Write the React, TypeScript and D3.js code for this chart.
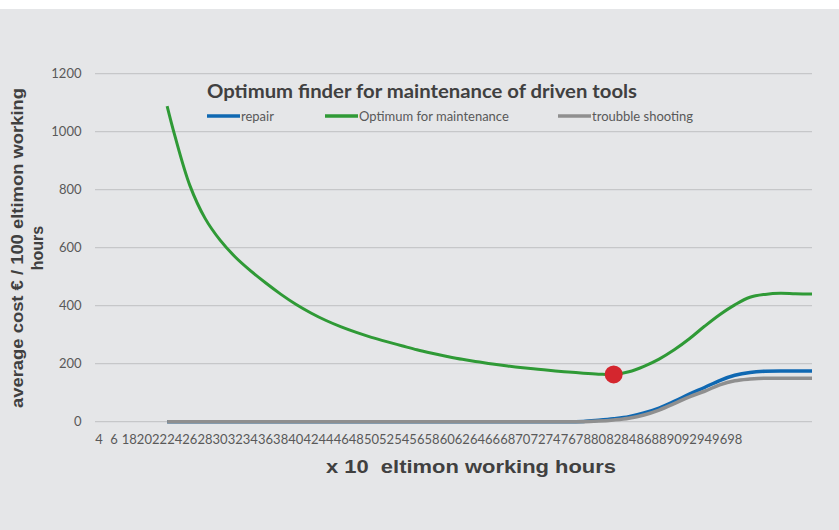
import {curveCatmullRom, curveMonotoneX, line, min, scaleLinear} from "d3";

const TICK_LABELS = [
  "4", "6", "18", "20", "22", "24", "26", "28", "30", "32", "34", "36", "38", "40", "42",
  "44", "46", "48", "50", "52", "54", "56", "58", "60", "62", "64", "66", "68", "70", "72",
  "74", "76", "78", "80", "82", "84", "86", "88", "90", "92", "94", "96", "98"
];

// position along the category axis (0 = first label)
const POSITIONS = [
  4.5, 5, 6, 7, 8, 9, 10, 11, 12, 13, 14, 15, 16, 17, 18, 19, 20, 21, 22, 23, 24, 25,
  26, 27, 28, 29, 30, 31, 32, 33, 34, 35, 36, 37, 38, 39, 40, 41, 42, 43, 44, 45, 46, 47, 47.1
];

const MAINTENANCE = [
  1088, 988, 815, 702, 626, 568, 521, 479, 440, 405, 375, 349, 327, 308, 291, 276, 262, 248,
  236, 225, 215, 207, 199, 192, 186, 181, 176, 171, 167, 164, 163, 172, 191, 216, 248, 286,
  329, 369, 403, 429, 439, 443, 441, 440, 440
];

const REPAIR = [
  0, 0, 0, 0, 0, 0, 0, 0, 0, 0, 0, 0, 0, 0, 0, 0, 0, 0, 0, 0, 0, 0, 0, 0, 0, 0, 0, 0,
  1, 5, 10, 17, 30, 47, 70, 95, 118, 142, 160, 170, 174, 175, 175, 175, 175
];

const TROUBLESHOOTING = [
  0, 0, 0, 0, 0, 0, 0, 0, 0, 0, 0, 0, 0, 0, 0, 0, 0, 0, 0, 0, 0, 0, 0, 0, 0, 0, 0, 0,
  0, 2, 6, 12, 23, 40, 62, 86, 105, 127, 141, 147, 150, 150, 150, 150, 150
];

const Y_TICKS = [0, 200, 400, 600, 800, 1000, 1200];

const SERIES = [
  {name: "repair", values: REPAIR, color: "#0f68b2", width: 3.5},
  {name: "Optimum for maintenance", values: MAINTENANCE, color: "#2f9a36", width: 3},
  {name: "troubble shooting", values: TROUBLESHOOTING, color: "#8f8f8f", width: 3.5}
];

const LEGEND_X = [207, 325, 558];

const LABEL_FONT = "Lato, 'Open Sans', sans-serif";
const TITLE_FONT = "'Liberation Sans', Arial, sans-serif";

export default function App() {
  const width = 839;
  const height = 530;

  const x = scaleLinear().domain([-0.264, 47.1]).range([95, 812]);
  const y = scaleLinear().domain([0, 1200]).range([421.7, 73.7]);

  const pathFor = (values: number[], smooth: boolean) =>
    line<number>()
      .x((_, i) => x(POSITIONS[i]))
      .y((v) => y(v))
      .curve(smooth ? curveCatmullRom.alpha(0.5) : curveMonotoneX)(values) ?? "";

  const minValue = min(MAINTENANCE) as number;
  const minIndex = MAINTENANCE.indexOf(minValue);

  const drawOrder = [SERIES[0], SERIES[2], SERIES[1]];

  return (
    <svg width={width} height={height} style={{position: "absolute", left: 0, top: 0}}>
      <rect x={0} y={0} width={width} height={height} fill="#ffffff" />
      <rect x={0} y={9} width={width} height={height - 9} fill="#e5e6e8" />

      {Y_TICKS.map((tick) => (
        <g key={tick}>
          <line x1={x.range()[0]} x2={x.range()[1]} y1={y(tick)} y2={y(tick)} stroke="#c6c7c9" strokeWidth={1.2} />
          <text
            x={81.5}
            y={y(tick)}
            dy="0.35em"
            textAnchor="end"
            fontFamily={LABEL_FONT}
            fontSize={13}
            fill="#595959"
          >
            {tick}
          </text>
        </g>
      ))}

      {TICK_LABELS.map((label, i) => (
        <text key={`x-${i}`} x={x(i)} y={444} textAnchor="middle" fontFamily={LABEL_FONT} fontSize={13} fill="#595959">
          {label}
        </text>
      ))}

      {drawOrder.map((s) => (
        <path
          key={s.name}
          d={pathFor(s.values, s.values === MAINTENANCE)}
          fill="none"
          stroke={s.color}
          strokeWidth={s.width}
          strokeLinejoin="round"
        />
      ))}

      <circle cx={x(POSITIONS[minIndex])} cy={y(minValue)} r={9} fill="#d4262e" />

      <text
        x={207}
        y={98}
        fontFamily={LABEL_FONT}
        fontWeight="bold"
        fontSize={19}
        fill="#404040"
        textLength={430}
        lengthAdjust="spacingAndGlyphs"
      >
        Optimum finder for maintenance of driven tools
      </text>

      {SERIES.map((s, i) => (
        <g key={`legend-${s.name}`} transform={`translate(${LEGEND_X[i]},116)`}>
          <line x1={0} x2={33} y1={0} y2={0} stroke={s.color} strokeWidth={3.5} />
          <text x={34} y={0} dy="0.35em" fontFamily={LABEL_FONT} fontSize={13} fill="#595959">
            {s.name}
          </text>
        </g>
      ))}

      <text
        x={326}
        y={472.5}
        fontFamily={TITLE_FONT}
        fontWeight="bold"
        fontSize={17.5}
        fill="#404040"
        textLength={290}
        lengthAdjust="spacingAndGlyphs"
        style={{whiteSpace: "pre"}}
      >
        {"x 10  eltimon working hours"}
      </text>

      <g transform="translate(22.5,248) rotate(-90)">
        <text
          x={0}
          y={0}
          textAnchor="middle"
          fontFamily={TITLE_FONT}
          fontWeight="bold"
          fontSize={16}
          fill="#404040"
          textLength={320}
          lengthAdjust="spacingAndGlyphs"
        >
          average cost € / 100 eltimon working
        </text>
        <text
          x={0}
          y={20.8}
          textAnchor="middle"
          fontFamily={TITLE_FONT}
          fontWeight="bold"
          fontSize={16}
          fill="#404040"
        >
          hours
        </text>
      </g>
    </svg>
  );
}
